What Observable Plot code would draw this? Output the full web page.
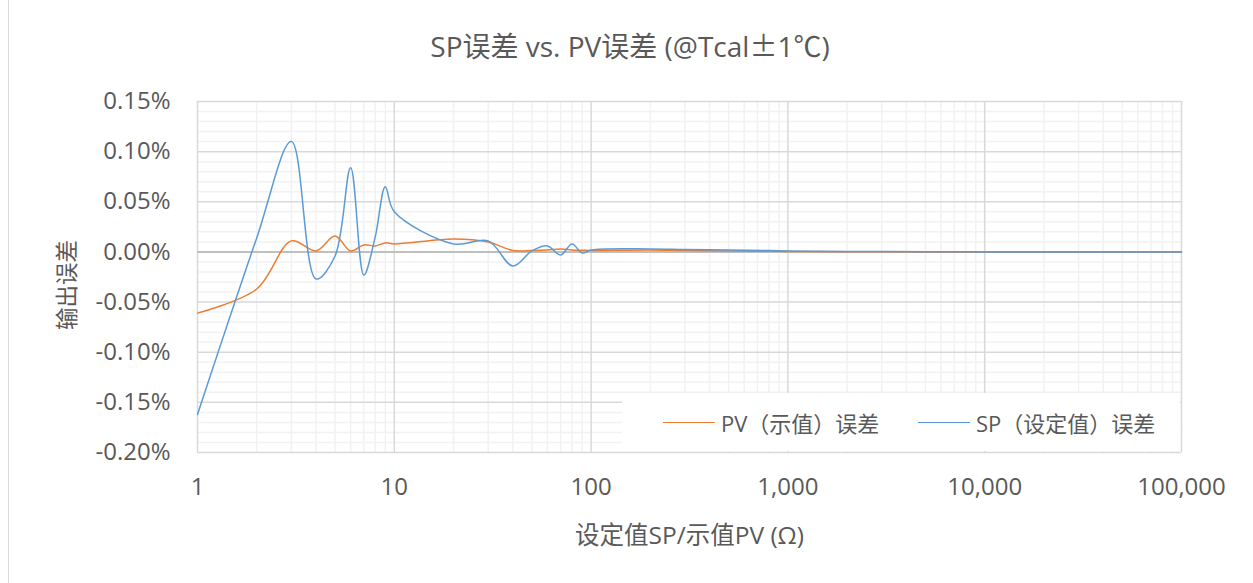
<!DOCTYPE html>
<html>
<head>
<meta charset="utf-8">
<script src="https://cdn.jsdelivr.net/npm/d3@7"></script>
<script src="https://cdn.jsdelivr.net/npm/@observablehq/plot@0.6"></script>
<style>
  body { margin: 0; background: #fff; }
  #wrap { position: relative; width: 1253px; height: 583px; overflow: hidden; background: #fff;
          font-family: "Open Sans", "Noto Sans CJK SC", sans-serif; color: #595959; }
  #edge { position: absolute; left: 8px; top: 0; width: 1px; height: 583px; background: #D9D9D9; }
  #title { height: 40px; padding-top: 25px; padding-left: 7px; line-height: 40px; text-align: center;
           font-size: 28px; box-sizing: content-box; margin-bottom: 5px; }
  #title .cjk { font-family: "Noto Sans CJK SC", sans-serif; }
  #legend { position: absolute; left: 622px; top: 393px; width: 558px; height: 58px; background: #fff;
            font-size: 22px; }
  .item { position: absolute; top: 0; height: 58px; display: flex; align-items: center; white-space: nowrap; }
  .swatch { display: inline-block; width: 52px; height: 0; border-top: 1.5px solid; margin-right: 6px; }
</style>
</head>
<body>
<div id="wrap">
  <div id="edge"></div>
  <div id="title"></div>
  <div id="chart"></div>
  <div id="legend"></div>
</div>
<script>
// ---- data ----
const titleParts = ["SP误差 vs. PV误差 (@Tcal", "±", "1℃)"];
const xTitle = "设定值SP/示值PV (Ω)";
const yTitle = "输出误差";
const seriesNames = ["PV（示值）误差", "SP（设定值）误差"];
const seriesColors = ["#ED7D31", "#5B9BD5"];

const resistance = [1, 2, 3, 4, 5, 6, 7, 8, 9, 10, 20, 30, 40, 50, 60, 70, 80, 90, 100,
                    200, 300, 500, 1000, 2000, 5000, 10000, 20000, 50000, 100000];
// error in percent
const pvError = [-0.061, -0.037, 0.011, 0.001, 0.016, 0.001, 0.007, 0.006, 0.009, 0.008,
                 0.013, 0.010, 0.0015, 0.0015, 0.002, 0.003, 0.002, 0.0017, 0.0015,
                 0.002, 0.0015, 0.001, 0.0005, 0.0002, 0.0, 0.0, 0.0, 0.0, 0.0];
const spError = [-0.162, 0.014, 0.110, -0.027, -0.004, 0.084, -0.023, 0.015, 0.065, 0.040,
                 0.008, 0.011, -0.014, 0.001, 0.006, -0.003, 0.008, -0.001, 0.002,
                 0.003, 0.0025, 0.002, 0.001, 0.0005, 0.0003, 0.0, 0.0, 0.0, 0.0];

const xTicks = [1, 10, 100, 1000, 10000, 100000];
const yTicks = [-0.20, -0.15, -0.10, -0.05, 0.00, 0.05, 0.10, 0.15];
const xDomain = [1, 100000];
const yDomain = [-0.20, 0.15];

// ---- build ----
const titleEl = document.getElementById("title");
titleParts.forEach((p, i) => {
  const s = document.createElement("span");
  if (i === 1) s.className = "cjk";
  s.textContent = p;
  titleEl.appendChild(s);
});

const pvRows = resistance.map((x, i) => ({x, v: pvError[i]}));
const spRows = resistance.map((x, i) => ({x, v: spError[i]}));
const xMinor = d3.scaleLog().domain(xDomain).ticks().filter(t => !xTicks.includes(t));
const yMinor = d3.range(-20, 16).map(i => i / 100).filter(t => !yTicks.some(m => Math.abs(m - t) < 1e-9));

const fmtX = d3.format(",");
const fmtY = d => d.toFixed(2) + "%";

const chart = Plot.plot({
  width: 1253,
  height: 513,
  marginLeft: 197,
  marginRight: 72,
  marginTop: 31,
  marginBottom: 131,
  style: {fontFamily: '"Open Sans", "Noto Sans CJK SC", sans-serif', fontSize: "24px", color: "#595959", background: "#fff"},
  x: {type: "log", domain: xDomain},
  y: {domain: yDomain},
  marks: [
    Plot.ruleX(xMinor, {stroke: "#F2F2F2", strokeWidth: 1.5}),
    Plot.ruleY(yMinor, {stroke: "#F2F2F2", strokeWidth: 1.5}),
    Plot.ruleX(xTicks, {stroke: "#D9D9D9", strokeWidth: 1.5}),
    Plot.ruleY(yTicks, {stroke: "#D9D9D9", strokeWidth: 1.5}),
    Plot.ruleY([0], {stroke: "#BFBFBF", strokeWidth: 2}),
    Plot.axisX(xTicks, {tickSize: 0, tickPadding: 25, tickFormat: fmtX, label: null, fontSize: 24}),
    Plot.axisY(yTicks, {tickSize: 0, tickPadding: 27, tickFormat: fmtY, label: null, fontSize: 24}),
    Plot.text([xTitle], {frameAnchor: "bottom", dy: 84, lineAnchor: "middle", fontSize: 24.5, fill: "#595959"}),
    Plot.text([yTitle], {frameAnchor: "left", dx: -130, dy: 8, rotate: -90, lineAnchor: "middle", textAnchor: "middle", fontSize: 22.5, fill: "#595959"}),
    Plot.line(pvRows, {x: "x", y: "v", stroke: seriesColors[0], strokeWidth: 1.5, curve: "catmull-rom"}),
    Plot.line(spRows, {x: "x", y: "v", stroke: seriesColors[1], strokeWidth: 1.5, curve: "catmull-rom"})
  ]
});
document.getElementById("chart").appendChild(chart);

// legend
const legend = document.getElementById("legend");
const lefts = [41, 296];
seriesNames.forEach((name, i) => {
  const it = document.createElement("div");
  it.className = "item";
  it.style.left = lefts[i] + "px";
  const sw = document.createElement("span");
  sw.className = "swatch";
  sw.style.borderTopColor = seriesColors[i];
  const tx = document.createElement("span");
  tx.textContent = name;
  it.appendChild(sw); it.appendChild(tx);
  legend.appendChild(it);
});
</script>
</body>
</html>
